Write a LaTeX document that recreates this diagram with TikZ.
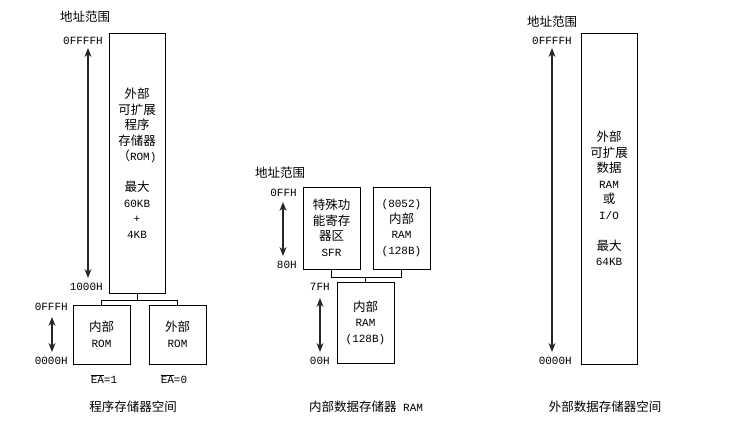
\documentclass[tikz,border=0pt]{standalone}
\usepackage{fontspec}
\setmainfont{Liberation Mono}
\newfontfamily\cjk{Noto Sans CJK SC}
\newcommand{\zh}[1]{{\cjk\fontsize{12.5}{15.5}\selectfont #1}}
\usetikzlibrary{arrows.meta,positioning,shapes}

\begin{document}
\begin{tikzpicture}[x=1pt, y=-1pt,
    memblock/.style={draw, line width=0.8pt, align=center, inner sep=0pt},
    addr/.style={anchor=east, inner sep=0pt},
    addrspan/.style={{Stealth[length=9pt, width=7pt]}-{Stealth[length=9pt, width=7pt]}, line width=1.1pt, black!85},
    link/.style={line width=0.6pt},
    every node/.style={font=\fontsize{11}{15.5}\selectfont}]
    \useasboundingbox (0,0) rectangle (732,428);

    % program memory
    \node (titleA) at (85,17) {\zh{地址范围}};
    \node[memblock, minimum width=56, minimum height=260] (exprog) at (137,163)
        {\zh{外部}\\\zh{可扩展}\\\zh{程序}\\\zh{存储器}\\\zh{（}ROM)\\[15.5pt]\zh{最大}\\60KB\\+\\4KB};
    \node[memblock, minimum width=57, minimum height=59] (inrom) at (101.5,334.5) {\zh{内部}\\ROM};
    \node[memblock, minimum width=57, minimum height=59] (exrom) at (177.5,334.5) {\zh{外部}\\ROM};
    \node[addr] (hiA) at (103,41) {0FFFFH};
    \node[addr] (loA) at (103,287) {1000H};
    \node[addr] (hiB) at (68,307) {0FFFH};
    \node[addr] (loB) at (68,361) {0000H};
    \node (eaone) at (104,379) {$\overline{\hbox{EA}}$=1};
    \node (eazero) at (174,379) {$\overline{\hbox{EA}}$=0};
    \node (capA) at (133,407) {\zh{程序存储器空间}};
    \coordinate (rA1) at (88,48);
    \coordinate (rA2) at (88,278);
    \coordinate (rB1) at (52,317);
    \coordinate (rB2) at (52,352);
    \draw[addrspan] (rA1) -- (rA2);
    \draw[addrspan] (rB1) -- (rB2);
    \draw[link] (exprog.south) -- ++(0,7) -| (inrom.north);
    \draw[link] (exprog.south) ++(0,7) -| (exrom.north);

    % internal data memory
    \node (titleB) at (280,173) {\zh{地址范围}};
    \node[memblock, minimum width=57, minimum height=82] (sfr) at (331.5,228)
        {\zh{特殊功}\\\zh{能寄存}\\\zh{器区}\\SFR};
    \node[memblock, minimum width=57, minimum height=82] (hiram) at (401.5,228)
        {(8052)\\\zh{内部}\\RAM\\(128B)};
    \node[memblock, minimum width=57, minimum height=81] (loram) at (365.5,322.5)
        {\zh{内部}\\RAM\\(128B)};
    \node[addr] (hiC) at (297,193) {0FFH};
    \node[addr] (loC) at (297,265) {80H};
    \node[addr] (hiD) at (330,287) {7FH};
    \node[addr] (loD) at (330,361) {00H};
    \node (capB) at (366,407) {\zh{内部数据存储器} RAM};
    \coordinate (rC1) at (283,202);
    \coordinate (rC2) at (283,256);
    \coordinate (rD1) at (320,298);
    \coordinate (rD2) at (320,352);
    \draw[addrspan] (rC1) -- (rC2);
    \draw[addrspan] (rD1) -- (rD2);
    \draw[link] (sfr.south) -- ++(0,8) -| (hiram.south);
    \draw[link] (loram.north) -- ++(0,-5);

    % external data memory
    \node (titleC) at (552,22) {\zh{地址范围}};
    \node[memblock, minimum width=56, minimum height=331] (exdata) at (609,198.5)
        {\zh{外部}\\\zh{可扩展}\\\zh{数据}\\RAM\\\zh{或}\\I/O\\[15.5pt]\zh{最大}\\64KB};
    \node[addr] (hiE) at (572,41) {0FFFFH};
    \node[addr] (loE) at (572,361) {0000H};
    \node (capC) at (605,407) {\zh{外部数据存储器空间}};
    \coordinate (rE1) at (552,48);
    \coordinate (rE2) at (552,352);
    \draw[addrspan] (rE1) -- (rE2);
\end{tikzpicture}
\end{document}
